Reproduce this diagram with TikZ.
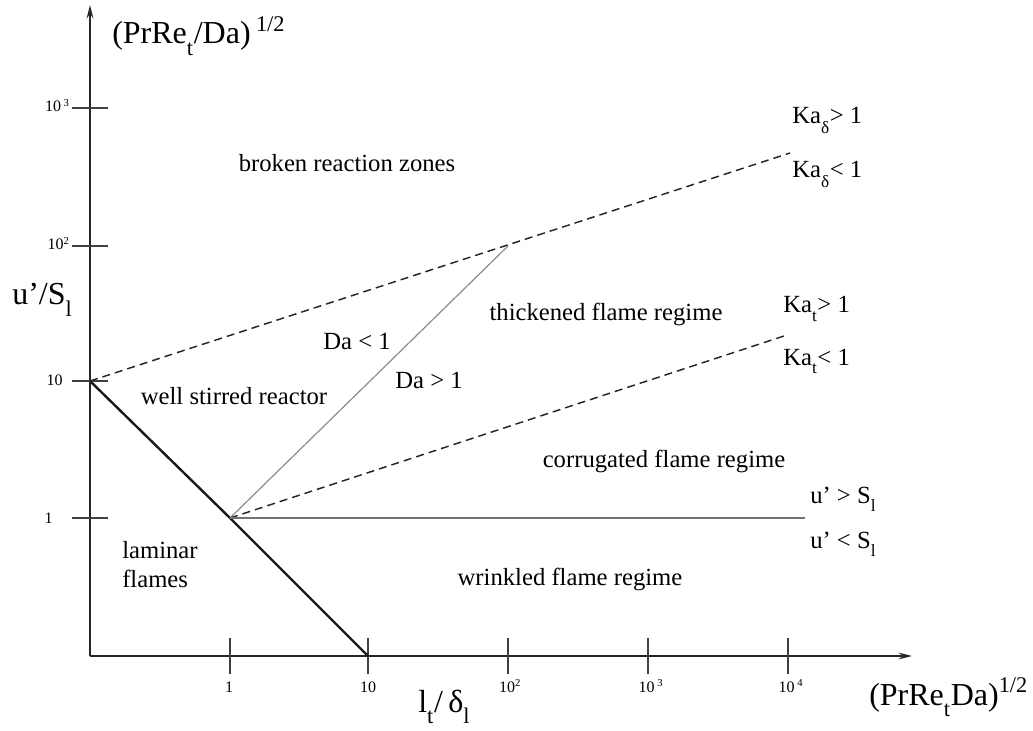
\documentclass[tikz,border=0pt]{standalone}
\usepackage{fontspec}
\setmainfont{Liberation Serif}
\usetikzlibrary{arrows.meta,positioning}

\newcommand{\lowsub}[1]{\raisebox{-0.2em}{\textsubscript{#1}}}

\begin{document}
\begin{tikzpicture}[
x=0.75pt,y=-0.75pt,
axis/.style={draw=black!85,line width=1.5pt,-{Stealth[length=10pt,width=5pt]}},
tick/.style={draw=black!75,line width=1.4pt},
border/.style={draw=black!90,line width=1.8pt},
daline/.style={draw=black!45,line width=0.9pt},
kaline/.style={draw=black!85,line width=1.1pt,dash pattern=on 6pt off 3.8pt},
sline/.style={draw=black!55,line width=2pt},
lbl/.style={font=\fontsize{18.5}{22}\selectfont,inner sep=0pt},
ticklbl/.style={font=\fontsize{12}{14}\selectfont,inner sep=0pt},
axlbl/.style={font=\fontsize{24}{28}\selectfont,inner sep=0pt}
]
\useasboundingbox (0,0) rectangle (1033,731);

% corner points of the regime borders
\coordinate (orig) at (90,656);
\coordinate (ytop) at (90,5);
\coordinate (xend) at (912,656);
\coordinate (w10) at (90,381);
\coordinate (w1) at (230,518);
\coordinate (l10) at (368,656);
\coordinate (d100) at (508,246);
\coordinate (kadend) at (790,153);
\coordinate (katend) at (787,335);
\coordinate (uend) at (805,518);

% axes
\draw[axis] (orig) -- (ytop);
\draw[axis] (orig) -- (xend);

% ticks
\draw[tick] (72,518) -- (108,518);
\draw[tick] (72,381) -- (108,381);
\draw[tick] (72,246) -- (108,246);
\draw[tick] (72,108) -- (108,108);
\draw[tick] (230,638) -- (230,674);
\draw[tick] (368,638) -- (368,674);
\draw[tick] (508,638) -- (508,674);
\draw[tick] (648,638) -- (648,674);
\draw[tick] (788,638) -- (788,674);

\node[ticklbl,anchor=base east] (y1) at (53,523) {1};
\node[ticklbl,anchor=base east] (y10) at (63,386) {10};
\node[ticklbl,anchor=base east] (y100) at (70,250) {10\textsuperscript{2}};
\node[ticklbl,anchor=base east] (y1000) at (70,112) {10\,\textsuperscript{3}};
\node[ticklbl,anchor=base] (x1) at (229,692) {1};
\node[ticklbl,anchor=base] (x10) at (368,692) {10};
\node[ticklbl,anchor=base] (x100) at (510,692) {10\textsuperscript{2}};
\node[ticklbl,anchor=base] (x1000) at (651,692) {10\,\textsuperscript{3}};
\node[ticklbl,anchor=base] (x10000) at (791,692) {10\,\textsuperscript{4}};

% axis labels
\node[axlbl,anchor=base west] (ylab) at (112,44) {(PrRe\lowsub{t}/Da)\,\textsuperscript{1/2}};
\node[axlbl,anchor=base west] (uslab) at (12,305) {u’/S\lowsub{l}};
\node[axlbl,anchor=base west] (xlab) at (869,705) {(PrRe\lowsub{t}Da)\textsuperscript{1/2}};
\node[axlbl,anchor=base west] (ldlab) at (418,712) {l\lowsub{t}/\,δ\lowsub{l}};

% regime borders
\draw[border] (w10) -- (w1) -- (l10);
\draw[daline] (w1) -- (d100);
\draw[kaline] (w10) -- (kadend);
\draw[kaline] (w1) -- (katend);
\draw[sline] (w1) -- (uend);

% regimes
\node[lbl] (broken) at (347,163) {broken reaction zones};
\node[lbl] (wsr) at (234,396) {well stirred reactor};
\node[lbl] (dalt) at (357,341) {Da < 1};
\node[lbl] (dagt) at (429,380) {Da > 1};
\node[lbl] (thick) at (606,314) {thickened flame regime};
\node[lbl] (corr) at (664,461) {corrugated flame regime};
\node[lbl] (wrink) at (570,579) {wrinkled flame regime};
\node[lbl,anchor=north west,align=left] (lam) at (122,541) {laminar\\flames};

% border labels
\node[lbl,anchor=base west] (kadgt) at (792,124) {Ka\lowsub{δ}> 1};
\node[lbl,anchor=base west] (kadlt) at (792,178) {Ka\lowsub{δ}< 1};
\node[lbl,anchor=base west] (katgt) at (783,313) {Ka\lowsub{t}> 1};
\node[lbl,anchor=base west] (katlt) at (783,365) {Ka\lowsub{t}< 1};
\node[lbl,anchor=base west] (ugt) at (810,503) {u’ > S\lowsub{l}};
\node[lbl,anchor=base west] (ult) at (810,548) {u’ < S\lowsub{l}};

\end{tikzpicture}
\end{document}
